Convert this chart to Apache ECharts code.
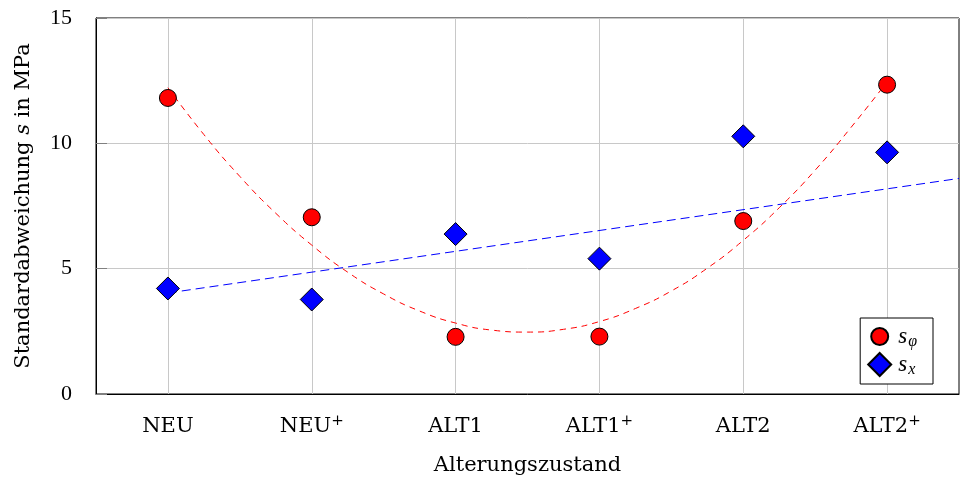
<!DOCTYPE html>
<html><head><meta charset="utf-8">
<script src="https://cdn.jsdelivr.net/npm/echarts@6/dist/echarts.min.js"></script>
<style>html,body{margin:0;padding:0;background:#fff}#c{width:960px;height:481px}</style>
</head><body><div id="c"></div>
<script>
// Categories (x axis)
const categories = ['NEU', 'NEU+', 'ALT1', 'ALT1+', 'ALT2', 'ALT2+'];
// Series values
const sPhi = [11.81, 7.05, 2.28, 2.29, 6.90, 12.34];
const sX = [4.21, 3.77, 6.38, 5.40, 10.28, 9.64];
// Dashed fit curve for s_phi (x = category position)
const phiFitX = [0, 0.25, 0.5, 0.75, 1, 1.25, 1.5, 1.75, 2, 2.25, 2.5, 2.75, 3, 3.25, 3.5, 3.75, 4, 4.25, 4.5, 4.75, 5];
const phiFitY = [12.22, 10.35, 8.68, 7.21, 5.94, 4.86, 3.99, 3.31, 2.83, 2.55, 2.47, 2.58, 2.89, 3.41, 4.11, 5.02, 6.13, 7.43, 8.93, 10.64, 12.45];
// Dashed fit line for s_x
const xFitX = [0, 5.5];
const xFitY = [4.03, 8.60];
// Y tick values
const yTicks = [0, 5, 10, 15];

const NUMFONT = 'Liberation Serif';
const FONT = 'DejaVu Serif';
// legend icons: circle of diameter 17 and diamond of width 23 inside a 23x23 box
const circleIcon = 'path://M0 0M23 23M20 11.5A8.5 8.5 0 1 1 3 11.5A8.5 8.5 0 1 1 20 11.5Z';
const diamondIcon = 'path://M11.5 0L23 11.5L11.5 23L0 11.5Z';

const chart = echarts.init(document.getElementById('c'), null, {renderer: 'canvas'});
const option = {
  animation: false,
  backgroundColor: '#fff',
  grid: {left: 96, right: 1, top: 18, bottom: 85, show: true, borderColor: '#000', borderWidth: 1, backgroundColor: 'transparent'},
  xAxis: [
    {
      type: 'category', data: categories, boundaryGap: true,
      axisLine: {onZero: false, lineStyle: {color: '#000', width: 1}},
      axisTick: {inside: true, alignWithLabel: true, interval: 0, length: 11, lineStyle: {color: '#808080'}},
      splitLine: {show: true, alignWithLabel: true, interval: 0, lineStyle: {color: '#c8c8c8', width: 1}},
      axisLabel: {
        interval: 0, margin: 20, color: '#000', fontFamily: FONT, fontSize: 21,
        formatter: v => v.endsWith('+') ? '{m|' + v.slice(0, -1) + '}{sup|+}' : '{m|' + v + '}',
        rich: {
          m: {fontFamily: FONT, fontSize: 21, color: '#000', lineHeight: 26},
          sup: {fontFamily: FONT, fontSize: 15, color: '#000', verticalAlign: 'top', lineHeight: 14}
        }
      },
      name: 'Alterungszustand', nameLocation: 'middle', nameGap: 61,
      nameTextStyle: {fontFamily: FONT, fontSize: 21, color: '#000'}
    },
    {type: 'value', min: -0.5, max: 5.5, show: false, axisLine: {onZero: false}}
  ],
  yAxis: {
    type: 'value', min: 0, max: 15, interval: 5,
    axisLine: {show: true, onZero: false, lineStyle: {color: '#000', width: 1}},
    axisTick: {show: true, inside: true, length: 11, lineStyle: {color: '#808080'}},
    splitLine: {show: true, lineStyle: {color: '#c8c8c8', width: 1}},
    axisLabel: {margin: 24, color: '#000', fontFamily: NUMFONT, fontSize: 22},
    name: 'Standardabweichung {i|s} in MPa', nameLocation: 'middle', nameGap: 62,
    nameTextStyle: {fontFamily: FONT, fontSize: 21, color: '#000',
      rich: {i: {fontFamily: FONT, fontSize: 21, fontStyle: 'italic', color: '#000'}}}
  },
  legend: {
    orient: 'vertical', right: 27, bottom: 97,
    data: [{name: 'sphi', icon: circleIcon}, {name: 'sx', icon: diamondIcon}],
    backgroundColor: '#fff', borderColor: '#000', borderWidth: 1, borderRadius: 0,
    padding: [6, 16, 6, 7], itemGap: 2, itemWidth: 23, itemHeight: 23,
    formatter: n => n === 'sphi' ? '{s|s}{sub|φ}' : '{s|s}{sub|x}',
    textStyle: {fontFamily: NUMFONT, fontSize: 22, color: '#000',
      rich: {
        s: {fontFamily: NUMFONT, fontSize: 23, fontStyle: 'italic', color: '#000', lineHeight: 23, padding: [0, 1, 0, 2]},
        sub: {fontFamily: NUMFONT, fontSize: 16, fontStyle: 'italic', color: '#000', verticalAlign: 'top', lineHeight: 14, padding: [9, 0, 0, 0]}
      }}
  },
  series: [
    {
      name: 'phiFit', type: 'line', xAxisIndex: 1, z: 1, silent: true,
      data: phiFitX.map((x, i) => [x, phiFitY[i]]), smooth: true, showSymbol: false, symbol: 'none',
      lineStyle: {color: '#ff0000', width: 1, type: [6, 5]}
    },
    {
      name: 'xFit', type: 'line', xAxisIndex: 1, z: 1, silent: true,
      data: xFitX.map((x, i) => [x, xFitY[i]]), showSymbol: false, symbol: 'none',
      lineStyle: {color: '#0000ff', width: 1, type: [9, 5]}
    },
    {
      name: 'sphi', type: 'scatter', xAxisIndex: 0, z: 3, data: sPhi,
      symbol: 'circle', symbolSize: 17,
      itemStyle: {color: '#ff0000', borderColor: '#000', borderWidth: 1, opacity: 1}
    },
    {
      name: 'sx', type: 'scatter', xAxisIndex: 0, z: 3, data: sX,
      symbol: 'diamond', symbolSize: 23,
      itemStyle: {color: '#0000ff', borderColor: '#000', borderWidth: 1, opacity: 1}
    }
  ]
};
chart.setOption(option);
</script>
</body></html>
